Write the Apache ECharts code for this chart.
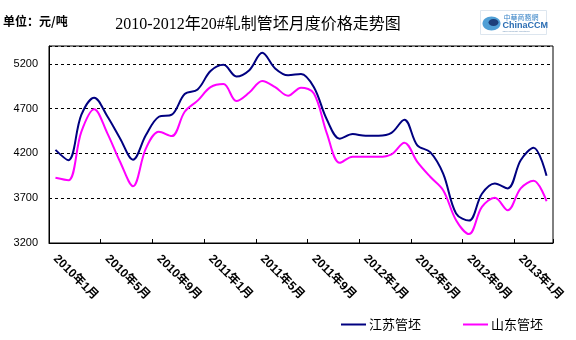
<!DOCTYPE html>
<html>
<head>
<meta charset="utf-8">
<script src="https://cdn.jsdelivr.net/npm/echarts@6/dist/echarts.min.js"></script>
<style>html,body{margin:0;padding:0;background:#fff;}#c{width:576px;height:340px;}</style>
</head>
<body>
<div id="c"></div>
<script>
// Categories: monthly, Jan 2010 .. Mar 2013 (39 points)
const categories = [];
(function(){ let y = 2010, m = 1; for (let i = 0; i < 39; i++) { categories.push(y + '年' + m + '月'); m++; if (m > 12) { m = 1; y++; } } })();

const seriesJS = [4240,4125,4630,4823,4618,4368,4130,4405,4610,4633,4864,4915,5120,5190,5060,5130,5325,5150,5073,
                  5088,4940,4580,4365,4416,4398,4398,4430,4577,4290,4215,3975,3530,3450,3750,3865,3810,4125,4265,3950];
const seriesSD = [3928,3900,4442,4695,4430,4107,3835,4256,4442,4394,4666,4790,4940,4975,4785,4880,5010,4940,4845,
                  4935,4870,4425,4095,4163,4163,4163,4190,4320,4107,3940,3790,3455,3300,3603,3705,3566,3810,3894,3666];
const seriesNames = ['江苏管坯', '山东管坯'];
const yTicks = [3200, 3700, 4200, 4700, 5200];

const chart = echarts.init(document.getElementById('c'), null, {renderer: 'canvas'});
chart.setOption({
  animation: false,
  backgroundColor: '#fff',
  title: {
    text: '2010-2012年20#轧制管坯月度价格走势图',
    left: 253, top: 12, textAlign: 'center',
    textStyle: {fontFamily: '"Liberation Serif", "Noto Sans CJK SC", serif', fontSize: 16, fontWeight: 'normal', color: '#000'}
  },
  graphic: [
    {type: 'text', left: 3, top: 15, style: {text: '单位：元/吨', font: 'bold 12px "Noto Sans CJK SC", sans-serif', fill: '#000'}},
    {type: 'group', left: 480, top: 10, children: [
      {type: 'rect', shape: {x: 0, y: 0, width: 66, height: 24}, style: {fill: '#fff', stroke: '#dde6ef', lineWidth: 1}},
      {type: 'ellipse', shape: {cx: 11, cy: 13, rx: 9, ry: 7}, style: {fill: '#4f9fd6'}},
      {type: 'ellipse', shape: {cx: 13, cy: 12, rx: 5, ry: 3.5}, style: {fill: '#1d3f7a'}},
      {type: 'text', x: 23, y: 3, style: {text: '中華商務網', font: '7px "Noto Sans CJK TC", sans-serif', fill: '#3c86c8'}},
      {type: 'text', x: 22, y: 11, style: {text: 'ChinaCCM', font: 'bold 9px "Liberation Sans", sans-serif', fill: '#2a6db3'}},
      {type: 'text', x: 22, y: 20, style: {text: 'China Commodity Marketplace', font: '2px sans-serif', fill: '#6a8fb5'}}
    ]}
  ],
  legend: {
    data: seriesNames,
    left: 336, top: 313,
    itemWidth: 25, itemHeight: 2, itemGap: 42,
    icon: 'rect',
    textStyle: {fontFamily: '"Noto Sans CJK SC", sans-serif', fontSize: 13, color: '#000', padding: [0,0,0,-2]}
  },
  grid: {left: 49, right: 23, top: 46, bottom: 97, show: true, borderColor: '#000', borderWidth: 1, backgroundColor: 'transparent'},
  xAxis: {
    type: 'category',
    data: categories,
    boundaryGap: true,
    axisLine: {lineStyle: {color: '#000', width: 1}},
    axisTick: {show: true, inside: true, length: 4, interval: 3, lineStyle: {color: '#000'}},
    axisLabel: {interval: 3, rotate: -45, margin: 14, fontSize: 12, fontWeight: 'bold', color: '#000',
                fontFamily: '"Liberation Sans", "Noto Sans CJK SC", sans-serif'},
    splitLine: {show: false}
  },
  yAxis: {
    type: 'value',
    min: 3200, max: 5400, interval: 500,
    axisLine: {show: true, lineStyle: {color: '#000', width: 1}},
    axisTick: {show: false},
    axisLabel: {margin: 11, fontSize: 11, color: '#000', fontFamily: '"Liberation Sans", Arial, sans-serif', showMaxLabel: false,
                formatter: function(v){ return yTicks.indexOf(v) >= 0 ? String(v) : ''; }},
    splitLine: {show: true, lineStyle: {color: '#000', type: [3, 3], width: 1}}
  },
  series: [
    {name: seriesNames[0], type: 'line', data: seriesJS, smooth: 0.35, showSymbol: false, symbol: 'none',
     lineStyle: {color: '#000080', width: 2}, itemStyle: {color: '#000080'}},
    {name: seriesNames[1], type: 'line', data: seriesSD, smooth: 0.35, showSymbol: false, symbol: 'none',
     lineStyle: {color: '#ff00ff', width: 2}, itemStyle: {color: '#ff00ff'}}
  ]
});
</script>
</body>
</html>
